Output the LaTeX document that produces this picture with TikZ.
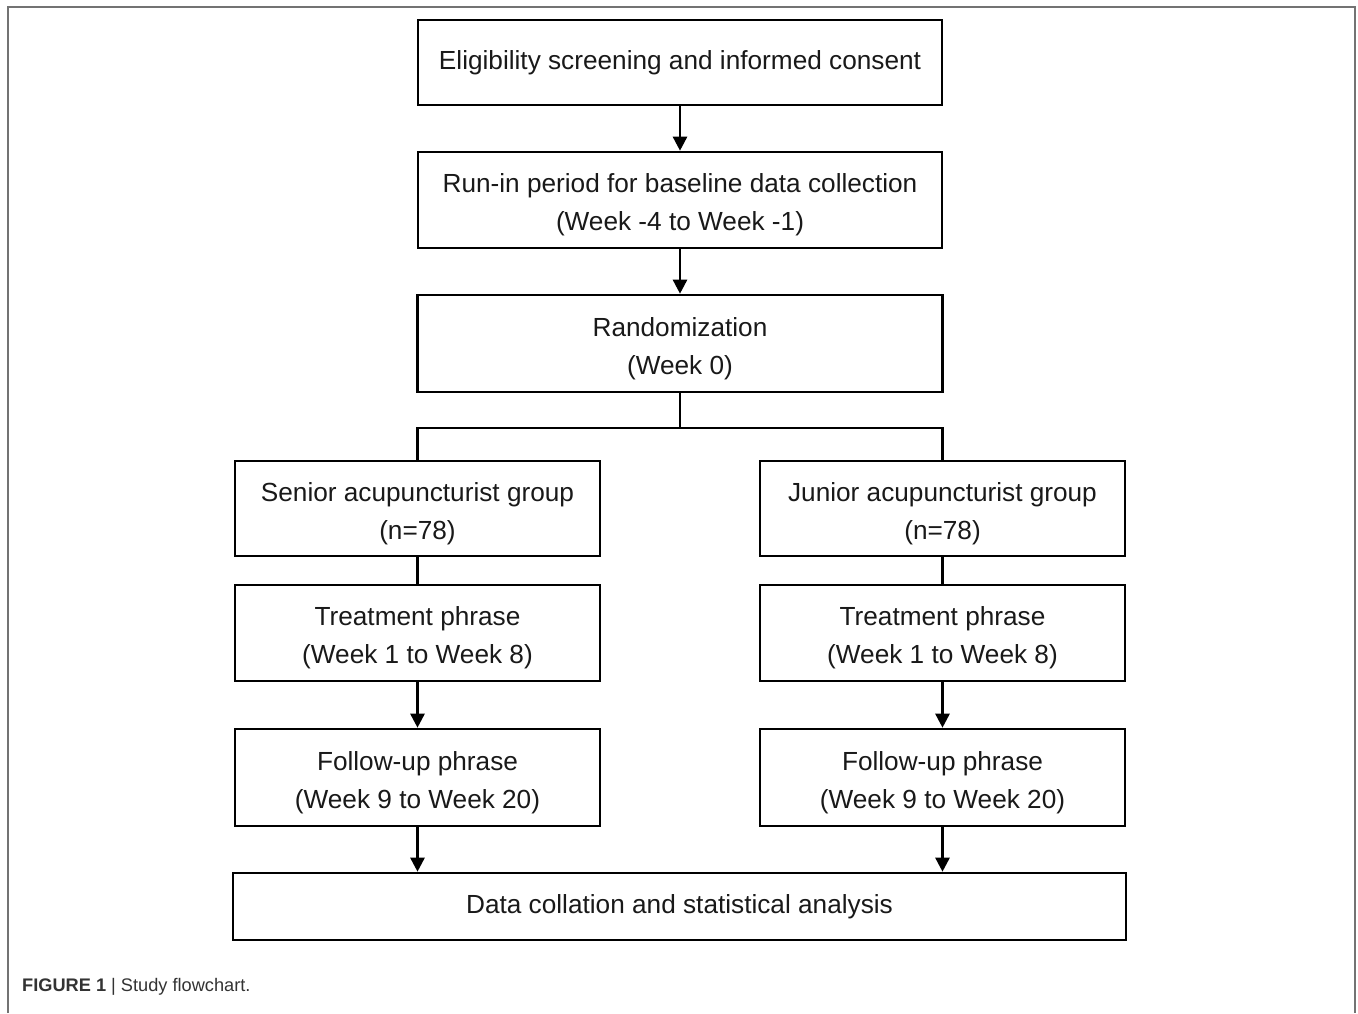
\documentclass[tikz,border=0pt]{standalone}
\usepackage{fontspec}
\setmainfont{Liberation Sans}
\usetikzlibrary{arrows.meta}
\newcommand\twoline[1]{\raisebox{-4pt}[\height][\depth]{\begin{tabular}{@{}c@{}}#1\end{tabular}}}
\begin{document}
\begin{tikzpicture}[x=1pt,y=-1pt,
  box/.style={draw=black,line width=2.6pt,rectangle,inner sep=0pt,align=center,
    font=\fontsize{26.2}{38}\selectfont,text=black!90},
  conn/.style={line width=2.6pt,draw=black},
  arr/.style={conn,-{Triangle[length=14pt,width=14pt]}}]
\useasboundingbox (0,0) rectangle (1358,1013);
\draw[color=black!55,line width=2pt] (7.5,1013) -- (7.5,6.5) -- (1355,6.5) -- (1355,1013);

\node[box,minimum width=524pt,minimum height=85pt] (b1) at (680,62.5)
  {Eligibility screening and informed consent};
\node[box,minimum width=524pt,minimum height=96pt] (b2) at (680,200)
  {\twoline{Run-in period for baseline data collection\\(Week -4 to Week -1)}};
\node[box,minimum width=525pt,minimum height=97pt] (b3) at (680,343.5)
  {\twoline{Randomization\\(Week 0)}};

\node[box,minimum width=365pt,minimum height=95pt] (s1) at (417.5,508.5)
  {\twoline{Senior acupuncturist group\\(n=78)}};
\node[box,minimum width=365pt,minimum height=95pt] (s2) at (942.5,508.5)
  {\twoline{Junior acupuncturist group\\(n=78)}};

\node[box,minimum width=365pt,minimum height=96pt] (t1) at (417.5,633)
  {\twoline{Treatment phrase\\(Week 1 to Week 8)}};
\node[box,minimum width=365pt,minimum height=96pt] (t2) at (942.5,633)
  {\twoline{Treatment phrase\\(Week 1 to Week 8)}};

\node[box,minimum width=365pt,minimum height=97pt] (f1) at (417.5,777.5)
  {\twoline{Follow-up phrase\\(Week 9 to Week 20)}};
\node[box,minimum width=365pt,minimum height=97pt] (f2) at (942.5,777.5)
  {\twoline{Follow-up phrase\\(Week 9 to Week 20)}};

\node[box,minimum width=893pt,minimum height=67pt] (d) at (679.5,906.5)
  {Data collation and statistical analysis};

\draw[arr] (b1.south) -- (b2.north);
\draw[arr] (b2.south) -- (b3.north);
\coordinate (j) at ([yshift=-34.5pt]b3.south);
\draw[conn] (b3.south) -- (j) -| (s1.north);
\draw[conn] (j) -| (s2.north);
\draw[conn] (s1.south) -- (t1.north);
\draw[conn] (s2.south) -- (t2.north);
\draw[arr] (t1.south) -- (f1.north);
\draw[arr] (t2.south) -- (f2.north);
\draw[arr] (f1.south) -- (f1.south |- d.north);
\draw[arr] (f2.south) -- (f2.south |- d.north);

\node[anchor=base west,inner sep=0pt,font=\fontsize{18.2}{22}\selectfont,text=black!80] (cap) at (22,991)
  {\textbf{FIGURE 1} | Study flowchart.};
\end{tikzpicture}
\end{document}
